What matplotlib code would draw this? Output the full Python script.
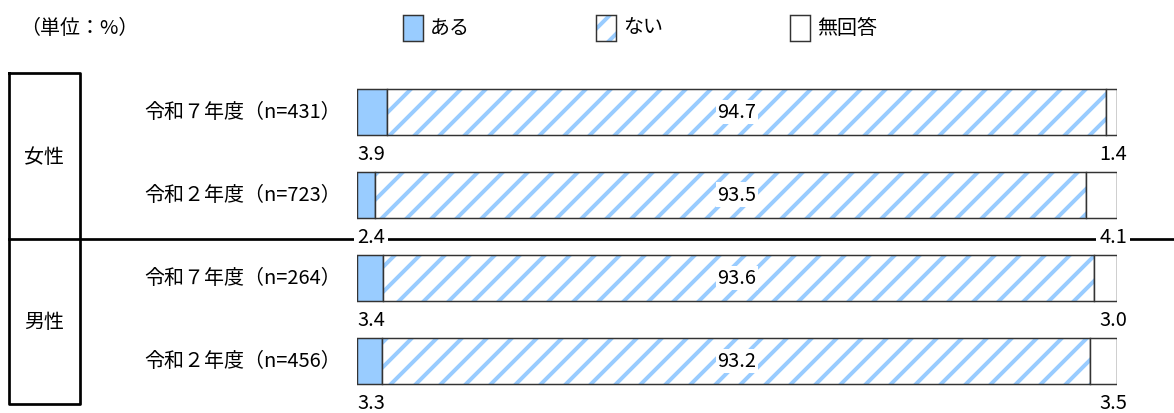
import matplotlib
matplotlib.use("Agg")
import matplotlib.pyplot as plt
from matplotlib.patches import Rectangle

plt.rcParams['font.family'] = ['Noto Sans CJK JP', 'DejaVu Sans']
plt.rcParams['hatch.linewidth'] = 1.9

# ---- data ----
row_labels = ['令和７年度（n=431）', '令和２年度（n=723）', '令和７年度（n=264）', '令和２年度（n=456）']
groups = ['女性', '男性']
series_names = ['ある', 'ない', '無回答']
aru = [3.9, 2.4, 3.4, 3.3]
nai = [94.7, 93.5, 93.6, 93.2]
mukaitou = [1.4, 4.1, 3.0, 3.5]
unit_label = '（単位：%）'

DPI = 150
W, H = 1174, 414
fig = plt.figure(figsize=(W / DPI, H / DPI), dpi=DPI)

# overlay axes in pixel coordinates for decorations
ax0 = fig.add_axes([0, 0, 1, 1])
ax0.set_xlim(0, W)
ax0.set_ylim(H, 0)
ax0.axis('off')

FS = 9.6
blue = '#99CCFF'
hatch_blue = '#99CCFF'
edge = '#333333'

ax0.text(20, 28, unit_label, fontsize=FS, va='center', ha='left')

# legend
leg_x = [403, 596, 790]
for i, (x, name) in enumerate(zip(leg_x, series_names)):
    if i == 0:
        ax0.add_patch(Rectangle((x, 16), 20, 26, facecolor=blue, edgecolor=edge, lw=0.7))
    elif i == 1:
        ax0.add_patch(Rectangle((x, 16), 20, 26, facecolor='white', edgecolor=hatch_blue, lw=0, hatch='//'))
        ax0.add_patch(Rectangle((x, 16), 20, 26, facecolor='none', edgecolor=edge, lw=0.7))
    else:
        ax0.add_patch(Rectangle((x, 16), 20, 26, facecolor='white', edgecolor=edge, lw=0.7))
    ax0.text(x + 27, 28, name, fontsize=FS, va='center', ha='left')

# group box
lw_box = 1.3
ax0.plot([9, 80, 80, 9, 9], [74, 74, 405, 405, 74], color='black', lw=lw_box, solid_capstyle='projecting')
ax0.plot([9, W], [240, 240], color='black', lw=lw_box)
ax0.text(44, 158, groups[0], fontsize=FS, ha='center', va='center')
ax0.text(44, 323, groups[1], fontsize=FS, ha='center', va='center')

# bar axes
x0, x1 = 357, 1117
ax = fig.add_axes([x0 / W, 0, (x1 - x0) / W, 1])
ax.set_xlim(0, 100)
ax.set_ylim(H, 0)
ax.axis('off')
ax.patch.set_alpha(0)

centers = [113, 195.5, 279, 362]
bh = 46
left2 = [a for a in aru]
left3 = [a + n for a, n in zip(aru, nai)]
ax.barh(centers, aru, height=bh, color=blue, edgecolor=edge, lw=0.7)
ax.barh(centers, nai, left=left2, height=bh, color='white', edgecolor=hatch_blue, lw=0, hatch='//')
ax.barh(centers, nai, left=left2, height=bh, color='none', edgecolor=edge, lw=0.7)
ax.barh(centers, mukaitou, left=left3, height=bh, color='white', edgecolor=edge, lw=0.7)

for c, lab in zip(centers, row_labels):
    ax0.text(341, c, lab, fontsize=FS, ha='right', va='center')

for c, a, n, m in zip(centers, aru, nai, mukaitou):
    yb = c + bh / 2 + 19
    ax.text(0, yb, f'{a:.1f}', fontsize=FS, ha='left', va='center',
            bbox=dict(facecolor='white', edgecolor='none', pad=1.5))
    ax.text(101.3, yb, f'{m:.1f}', fontsize=FS, ha='right', va='center',
            bbox=dict(facecolor='white', edgecolor='none', pad=1.5))
    ax.text(50, c, f'{n:.1f}', fontsize=FS, ha='center', va='center',
            bbox=dict(facecolor='white', edgecolor='none', pad=0.8))

fig.savefig('out.png', dpi=DPI)
